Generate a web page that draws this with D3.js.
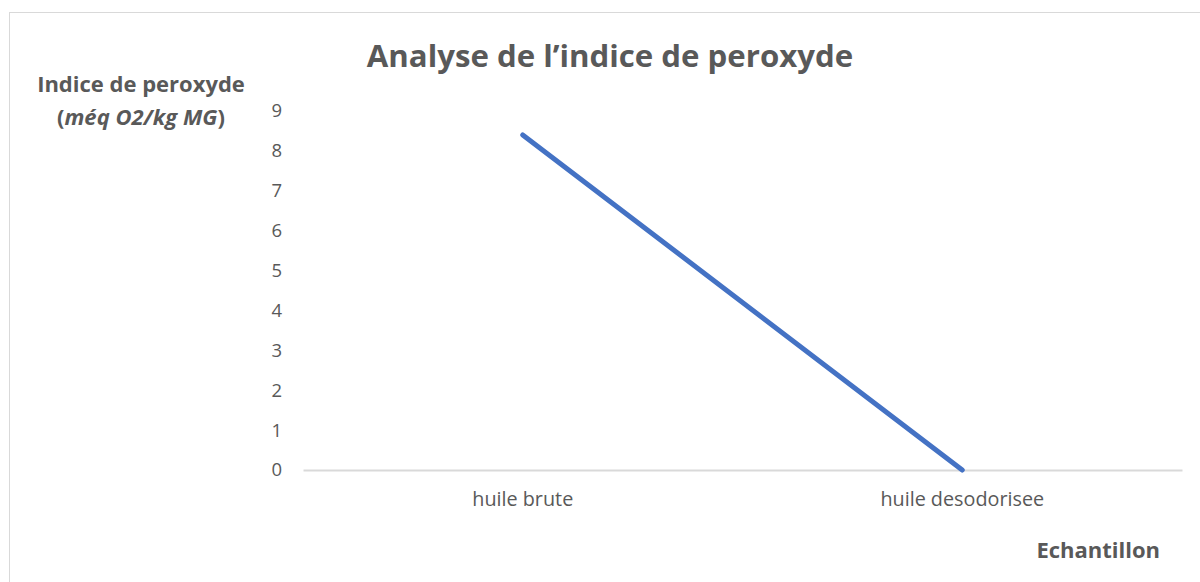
<!DOCTYPE html>
<html>
<head>
<meta charset="utf-8">
<script src="https://cdn.jsdelivr.net/npm/d3@7"></script>
<style>
  html, body { margin: 0; padding: 0; background: #fff; }
  svg { display: block; font-family: "Open Sans", sans-serif; }
</style>
</head>
<body>
<svg id="chart" width="1200" height="582"></svg>
<script>
// Samples and peroxide values (méq O2/kg MG)
const categories = ["huile brute", "huile desodorisee"];
const values = [8.4, 0];
const yTicks = [0, 1, 2, 3, 4, 5, 6, 7, 8, 9];

const svg = d3.select("#chart");
const textColor = "#595959";
const font = "'Open Sans', sans-serif";

// chart frame
svg.append("rect")
  .attr("x", 9.5).attr("y", 12.5)
  .attr("width", 1300).attr("height", 700)
  .attr("fill", "#fff").attr("stroke", "#d9d9d9").attr("stroke-width", 1);

const plot = { left: 303, right: 1182, top: 111, bottom: 470 };

const x = d3.scaleBand().domain(categories).range([plot.left, plot.right]);
const y = d3.scaleLinear().domain([0, 9]).range([plot.bottom, plot.top]);

// baseline axis
const xAxis = svg.append("g")
  .attr("transform", `translate(0,${plot.bottom})`)
  .call(d3.axisBottom(x).tickSize(0).tickPadding(22));
xAxis.select(".domain").attr("stroke", "#d9d9d9").attr("stroke-width", 2);
xAxis.selectAll("text")
  .attr("fill", textColor).attr("font-size", 19.8).attr("font-family", font);

// value axis (labels only)
const yAxis = svg.append("g")
  .attr("transform", `translate(${plot.left - 21},0)`)
  .call(d3.axisLeft(y).tickValues(yTicks).tickSize(0).tickPadding(0));
yAxis.select(".domain").remove();
yAxis.selectAll("text")
  .attr("fill", textColor).attr("font-size", 18.5).attr("font-family", font);

// series line
const line = d3.line()
  .x((d, i) => x(categories[i]) + x.bandwidth() / 2)
  .y(d => y(d));
svg.append("path")
  .datum(values)
  .attr("d", line)
  .attr("fill", "none")
  .attr("stroke", "#4472C4")
  .attr("stroke-width", 5)
  .attr("stroke-linecap", "round");

// title
svg.append("text")
  .attr("x", 610).attr("y", 67)
  .attr("text-anchor", "middle")
  .attr("fill", textColor)
  .attr("font-size", 31.2).attr("font-weight", "bold")
  .text("Analyse de l\u2019indice de peroxyde");

// y-axis title
const yt = svg.append("text")
  .attr("fill", textColor).attr("font-size", 22).attr("font-weight", "bold")
  .attr("text-anchor", "middle");
yt.append("tspan").attr("x", 141).attr("y", 92).text("Indice de peroxyde");
const l2 = yt.append("tspan").attr("x", 141).attr("y", 125);
l2.append("tspan").text("(");
l2.append("tspan").attr("font-style", "italic").text("méq O2/kg MG");
l2.append("tspan").text(")");

// x-axis title
svg.append("text")
  .attr("x", 1160).attr("y", 558)
  .attr("text-anchor", "end")
  .attr("fill", textColor).attr("font-size", 22).attr("font-weight", "bold")
  .text("Echantillon");
</script>
</body>
</html>
